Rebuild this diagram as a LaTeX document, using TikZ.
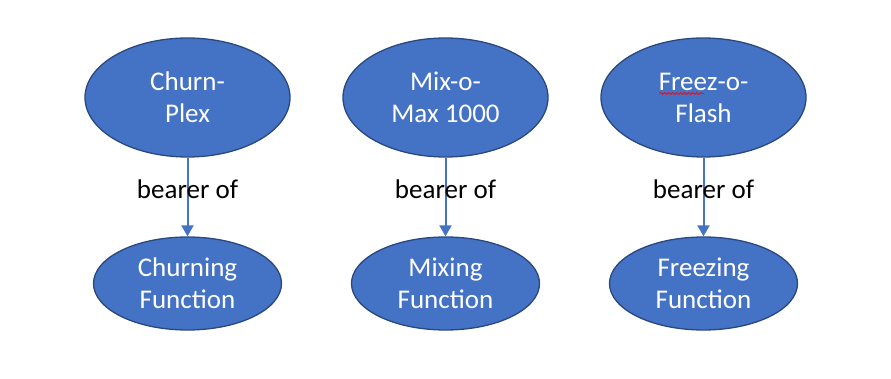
\documentclass[tikz,border=0pt]{standalone}
\usepackage{fontspec}
\setmainfont{Carlito}
\usepackage{xcolor}
\usetikzlibrary{arrows.meta,shapes.geometric,positioning,decorations.pathmorphing}
\definecolor{devfill}{RGB}{68,114,196}
\definecolor{devline}{RGB}{42,72,128}
\tikzset{
  device/.style={ellipse, draw=devline, line width=1.3pt, fill=devfill,
    text=white, inner sep=0pt, align=center,
    minimum width=205pt, minimum height=119pt,
    font=\fontsize{27}{32}\selectfont},
  function/.style={device, minimum width=188pt, minimum height=93pt},
  bearer/.style={draw=devfill, line width=2pt,
    -{Triangle[length=11pt,width=12pt]}},
  relname/.style={font=\fontsize{27}{32}\selectfont, text=black},
  spelling/.style={draw=red, line width=0.7pt, decorate,
    decoration={snake, amplitude=0.9pt, segment length=4pt}}
}

\begin{document}
\begin{tikzpicture}[x=1pt,y=-1pt]
  \useasboundingbox (0,0) rectangle (891,379);

  \node[device] (churnplex) at (187.5,97.5) {Churn-\\Plex};
  \node[device, right=51.7pt of churnplex] (mixomax) {Mix-o-\\Max 1000};
  \node[device, right=51.7pt of mixomax] (freezoflash) {Freez-o-\\Flash};

  \node[function, below=78.7pt of churnplex] (churning) {Churning\\Function};
  \node[function, below=78.7pt of mixomax] (mixing) {Mixing\\Function};
  \node[function, below=78.7pt of freezoflash] (freezing) {Freezing\\Function};

  \draw[bearer] (churnplex) -- node[relname, pos=0.4] {bearer of} (churning);
  \draw[bearer] (mixomax) -- node[relname, pos=0.4] {bearer of} (mixing);
  \draw[bearer] (freezoflash) -- node[relname, pos=0.4] {bearer of} (freezing);

  % squiggle under the first word
  \draw[spelling] ([xshift=-44pt,yshift=4pt]freezoflash.center) -- ++(44,0);
\end{tikzpicture}
\end{document}
